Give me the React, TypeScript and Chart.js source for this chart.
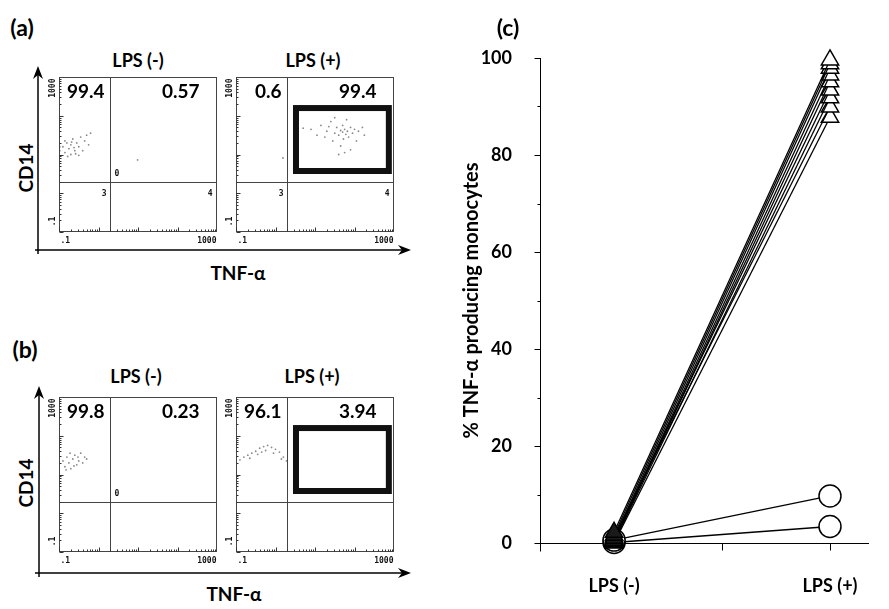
import React, { useEffect, useRef } from 'react';
import { Chart, registerables } from 'chart.js';
Chart.register(...registerables);

// ---------- Panel (c) data ----------
const conditions = ['LPS (-)', 'LPS (+)'];
const conditionX = [1, 2];
const triangleLpsNeg = [2.2, 1.6, 1.0, 0.5, 0.3, 0.8, 0.2, 1.3, 0.0];
const triangleLpsPos = [99.6, 98.8, 97.9, 96.5, 95.1, 93.4, 91.8, 89.9, 87.8];
const circleLpsNeg = [0.6, 0.1];
const circleLpsPos = [9.7, 3.4];
const yTickValues = [0, 10, 20, 30, 40, 50, 60, 70, 80, 90, 100];
const yLabelStep = 20;
const yAxisTitle = '% TNF-\u03b1 producing monocytes';

// ---------- Panels (a)/(b) data (log10 exponents of TNF-α, CD14) ----------
const cellsA_neg: number[][] = [
  [-1, 0.95], [-1, 1.05], [-1, 1.15], [-1, 1.25], [-1, 1.35], [-1, 1.45], [-0.98, 1.2], [-0.98, 1.1],
  [-0.9, 1.2], [-0.85, 1.05], [-0.8, 1.3], [-0.75, 1.15], [-0.7, 1.25], [-0.7, 1.0], [-0.65, 1.4],
  [-0.6, 1.1], [-0.55, 1.3], [-0.5, 1.2], [-0.5, 0.98], [-0.45, 1.45], [-0.4, 1.1], [-0.35, 1.35],
  [-0.3, 1.5], [-0.25, 1.25], [-0.2, 1.55], [-0.85, 1.35], [-0.78, 0.95], [-0.62, 1.18], [-0.58, 1.02],
  [-0.68, 1.32], [0.99, 0.86],
];
const cellsA_pos: number[][] = [
  [0.9, 1.65], [1.05, 1.5], [1.15, 1.75], [1.25, 1.45], [1.3, 1.6], [1.4, 1.85], [1.45, 1.35], [1.5, 1.55],
  [1.55, 1.7], [1.6, 1.5], [1.65, 1.62], [1.7, 1.58], [1.7, 1.75], [1.72, 1.4], [1.75, 1.65], [1.78, 1.52],
  [1.8, 1.9], [1.82, 1.6], [1.85, 1.45], [1.9, 1.7], [1.95, 1.55], [2.0, 1.65], [2.05, 1.35], [2.1, 1.6],
  [2.2, 1.7], [2.25, 1.5], [1.6, 1.0], [1.75, 1.05], [1.9, 1.12], [1.5, 1.95], [1.65, 1.22], [1.35, 1.72],
  [0.7, 1.68], [0.19, 0.91],
];
const cellsB_neg: number[][] = [
  [-1, 1.2], [-1, 1.3], [-1, 1.4], [-1, 1.25], [-0.9, 1.35], [-0.85, 1.2], [-0.8, 1.45], [-0.75, 1.3],
  [-0.7, 1.15], [-0.65, 1.4], [-0.6, 1.5], [-0.55, 1.25], [-0.5, 1.35], [-0.45, 1.55], [-0.4, 1.3],
  [-0.35, 1.45], [-0.3, 1.4], [-0.72, 1.55], [-0.62, 1.22], [-0.82, 1.12], [-0.52, 1.45],
];
const cellsB_pos: number[][] = [
  [-1, 1.35], [-1, 1.45], [-1, 1.4], [-0.9, 1.38], [-0.8, 1.45], [-0.7, 1.5], [-0.6, 1.55], [-0.5, 1.6],
  [-0.4, 1.68], [-0.3, 1.72], [-0.2, 1.75], [-0.1, 1.7], [0.0, 1.65], [0.1, 1.58], [0.2, 1.45], [0.28, 1.35],
  [-0.45, 1.52], [-0.25, 1.62], [-0.05, 1.55], [0.15, 1.4], [-0.65, 1.42], [-0.35, 1.58],
];
const quadrantPercentA_neg = ['99.4', '0.57'];
const quadrantPercentA_pos = ['0.6', '99.4'];
const quadrantPercentB_neg = ['99.8', '0.23'];
const quadrantPercentB_pos = ['96.1', '3.94'];
const quadrantThreshold = 1.9;
const gateX = [3.3, 740];
const gateY = [3.75, 158];
const flowAxisMin = 0.1;
const flowAxisMax = 1000;

const LATO = 'Lato, "Open Sans", sans-serif';

type FlowProps = {
  left: number; top: number; cells: number[][]; pct: string[]; gate: boolean;
  small: { three?: boolean; four?: boolean; zero?: boolean };
};

function FlowPlot({ left, top, cells, pct, gate, small }: FlowProps) {
  const ref = useRef<HTMLCanvasElement>(null);
  const padL = 16, padT = 4, padR = 6, padB = 16, bw = 158, bh = 155;
  const W = bw + padL + padR, H = bh + padT + padB;
  useEffect(() => {
    const canvas = ref.current!;
    const plugin = {
      id: 'flowDecor',
      afterDraw(chart: any) {
        const ctx = chart.ctx as CanvasRenderingContext2D;
        const xs = chart.scales.x, ys = chart.scales.y;
        const a = chart.chartArea;
        const L = Math.round(a.left) + 0.5, R = Math.round(a.right) - 0.5;
        const T = Math.round(a.top) + 0.5, B = Math.round(a.bottom) - 0.5;
        ctx.save();
        ctx.strokeStyle = '#444';
        ctx.lineWidth = 1;
        ctx.strokeRect(L, T, R - L, B - T);
        const qx = Math.round(xs.getPixelForValue(quadrantThreshold)) + 0.5;
        const qy = Math.round(ys.getPixelForValue(quadrantThreshold)) + 0.5;
        ctx.beginPath();
        ctx.moveTo(qx, T); ctx.lineTo(qx, B);
        ctx.moveTo(L, qy); ctx.lineTo(R, qy);
        ctx.stroke();
        ctx.strokeStyle = '#333';
        ctx.beginPath();
        for (let e = -1; e <= 2; e++) {
          for (let k = 1; k <= 9; k++) {
            const v = k * Math.pow(10, e);
            const len = k === 1 ? 4 : 2;
            const px = Math.round(xs.getPixelForValue(v)) + 0.5;
            ctx.moveTo(px, B); ctx.lineTo(px, B - len);
            const py = Math.round(ys.getPixelForValue(v)) + 0.5;
            ctx.moveTo(L, py); ctx.lineTo(L + len, py);
          }
        }
        ctx.stroke();
        if (gate) {
          ctx.strokeStyle = '#111';
          ctx.lineWidth = 6;
          const gx1 = xs.getPixelForValue(gateX[0]), gx2 = xs.getPixelForValue(gateX[1]);
          const gy1 = ys.getPixelForValue(gateY[1]), gy2 = ys.getPixelForValue(gateY[0]);
          ctx.strokeRect(gx1, gy1, gx2 - gx1, gy2 - gy1);
        }
        ctx.fillStyle = '#111';
        ctx.font = 'bold 8px "DejaVu Sans Mono", monospace';
        ctx.textBaseline = 'middle';
        ctx.textAlign = 'left';
        ctx.fillText('.1', L + 1, B + 9);
        ctx.textAlign = 'right';
        ctx.fillText(String(flowAxisMax), R, B + 9);
        ctx.save();
        ctx.translate(L - 7, T + 1);
        ctx.rotate(-Math.PI / 2);
        ctx.textAlign = 'right';
        ctx.fillText(String(flowAxisMax), 0, 0);
        ctx.restore();
        ctx.save();
        ctx.translate(L - 7, B - 10);
        ctx.rotate(-Math.PI / 2);
        ctx.textAlign = 'center';
        ctx.fillText('.1', 0, 0);
        ctx.restore();
        if (small.three) { ctx.textAlign = 'right'; ctx.fillText('3', qx - 4, qy + 11); }
        if (small.four) { ctx.textAlign = 'right'; ctx.fillText('4', R - 4, qy + 11); }
        if (small.zero) { ctx.textAlign = 'left'; ctx.fillText('0', qx + 4, qy - 9); }
        ctx.fillStyle = '#000';
        ctx.font = `bold 19px ${LATO}`;
        ctx.textAlign = 'right';
        ctx.fillText(pct[0], qx - 6, T + 14);
        ctx.fillText(pct[1], R - 17, T + 14);
        ctx.restore();
      },
    };
    const chart = new Chart(canvas, {
      type: 'scatter',
      data: {
        datasets: [{
          data: cells.map(([lx, ly]) => ({ x: Math.pow(10, lx), y: Math.pow(10, ly) })),
          pointRadius: 0.9,
          pointBorderWidth: 0,
          backgroundColor: '#8a8a8a',
          borderColor: '#8a8a8a',
        }],
      },
      options: {
        animation: false,
        responsive: false,
        events: [],
        layout: { padding: { left: padL, top: padT, right: padR, bottom: padB } },
        plugins: { legend: { display: false }, tooltip: { enabled: false } },
        scales: {
          x: { type: 'logarithmic', min: flowAxisMin, max: flowAxisMax, display: false },
          y: { type: 'logarithmic', min: flowAxisMin, max: flowAxisMax, display: false },
        },
      },
      plugins: [plugin],
    } as any);
    return () => chart.destroy();
  }, []);
  return (
    <canvas
      ref={ref}
      width={W}
      height={H}
      style={{ position: 'absolute', left: left - padL, top: top - padT, width: W, height: H }}
    />
  );
}

function PanelC() {
  const ref = useRef<HTMLCanvasElement>(null);
  useEffect(() => {
    const canvas = ref.current!;
    const lineStyle = { borderColor: '#000', borderWidth: 1.3, pointBorderColor: '#000', pointBorderWidth: 1.5, showLine: true, clip: false as any };
    const datasets: any[] = [];
    triangleLpsNeg.forEach((v, i) => {
      datasets.push({
        ...lineStyle,
        data: [{ x: conditionX[0], y: v }, { x: conditionX[1], y: triangleLpsPos[i] }],
        pointStyle: 'triangle',
        pointRadius: 10,
        pointBackgroundColor: ['#1a1a1a', '#fff'],
      });
    });
    circleLpsNeg.forEach((v, i) => {
      datasets.push({
        ...lineStyle,
        data: [{ x: conditionX[0], y: v }, { x: conditionX[1], y: circleLpsPos[i] }],
        pointStyle: 'circle',
        pointRadius: 11,
        pointBackgroundColor: '#fff',
      });
    });
    const tickPlugin = {
      id: 'cTicks',
      afterDraw(chart: any) {
        const ctx = chart.ctx as CanvasRenderingContext2D;
        const xs = chart.scales.x, ys = chart.scales.y;
        const a = chart.chartArea;
        const L = Math.round(a.left) + 0.5;
        const B = Math.round(ys.getPixelForValue(0)) + 0.5;
        ctx.save();
        ctx.strokeStyle = '#000';
        ctx.lineWidth = 1;
        ctx.beginPath();
        yTickValues.forEach((v) => {
          const py = Math.round(ys.getPixelForValue(v)) + 0.5;
          const len = v % yLabelStep === 0 ? 6 : 3;
          ctx.moveTo(L - len, py); ctx.lineTo(L, py);
        });
        ctx.moveTo(L, B); ctx.lineTo(L, B + 8);
        [1.5, 2].forEach((v) => {
          const px = Math.round(xs.getPixelForValue(v)) + 0.5;
          ctx.moveTo(px, B); ctx.lineTo(px, B + 7);
        });
        ctx.stroke();
        ctx.restore();
      },
    };
    const tickFont = { family: LATO, weight: 'bold' as const, size: 18 };
    const chart = new Chart(canvas, {
      type: 'scatter',
      data: { datasets },
      options: {
        animation: false,
        responsive: false,
        events: [],
        layout: { padding: { left: 26, top: 58, right: 21, bottom: 8 } },
        plugins: { legend: { display: false }, tooltip: { enabled: false } },
        scales: {
          x: {
            type: 'linear', min: 0.657, max: 2.176,
            afterBuildTicks: (s: any) => { s.ticks = conditionX.map((v) => ({ value: v })); },
            afterFit: (s: any) => { s.height = 58; },
            ticks: {
              autoSkip: false, maxRotation: 0, minRotation: 0, padding: 24, color: '#000', font: tickFont,
              callback: (v: any) => { const i = conditionX.indexOf(Number(v)); return i >= 0 ? conditions[i] : ''; },
            },
            grid: { display: false },
            border: { display: true, color: '#000', width: 1 },
          },
          y: {
            type: 'linear', min: 0, max: 100,
            afterBuildTicks: (s: any) => { s.ticks = yTickValues.map((v) => ({ value: v })); },
            afterFit: (s: any) => { s.width = 84; },
            ticks: {
              autoSkip: false, padding: 20, color: '#000', font: tickFont,
              callback: (v: any) => (Number(v) % yLabelStep === 0 ? String(v) : ''),
            },
            grid: { display: false },
            border: { display: true, color: '#000', width: 1 },
            title: { display: true, text: yAxisTitle, color: '#000', font: { family: LATO, weight: 'bold', size: 20 }, padding: { top: 4, bottom: 4 } },
          },
        },
      },
      plugins: [tickPlugin],
    } as any);
    return () => chart.destroy();
  }, []);
  return <canvas ref={ref} width={459} height={609} style={{ position: 'absolute', left: 430, top: 0, width: 459, height: 609 }} />;
}

function Label({ x, y, text, size = 18, rotate = false }: { x: number; y: number; text: string; size?: number; rotate?: boolean }) {
  return (
    <div
      style={{
        position: 'absolute', left: x, top: y, transform: `translate(-50%, -50%)${rotate ? ' rotate(-90deg)' : ''}`,
        fontFamily: LATO, fontWeight: 700, fontSize: size, lineHeight: 1, whiteSpace: 'nowrap', color: '#000',
      }}
    >
      {text}
    </div>
  );
}

function Arrows({ vx, vTop, vBottom, hy, hLeft, hRight }: { vx: number; vTop: number; vBottom: number; hy: number; hLeft: number; hRight: number }) {
  return (
    <svg width={889} height={609} style={{ position: 'absolute', left: 0, top: 0, pointerEvents: 'none' }}>
      <line x1={vx} y1={vBottom} x2={vx} y2={vTop + 4} stroke="#000" strokeWidth={1.5} />
      <path d={`M ${vx} ${vTop} L ${vx - 5} ${vTop + 13} L ${vx} ${vTop + 9} L ${vx + 5} ${vTop + 13} Z`} fill="#000" />
      <line x1={hLeft} y1={hy} x2={hRight - 4} y2={hy} stroke="#000" strokeWidth={1.5} />
      <path d={`M ${hRight} ${hy} L ${hRight - 13} ${hy - 5} L ${hRight - 9} ${hy} L ${hRight - 13} ${hy + 5} Z`} fill="#000" />
    </svg>
  );
}

export default function App() {
  return (
    <div style={{ position: 'fixed', left: 0, top: 0, width: 889, height: 609, background: '#fff', overflow: 'hidden' }}>
      {/* Panel (a) */}
      <Label x={22} y={27} text="(a)" size={23} />
      <Label x={138} y={60} text={conditions[0]} />
      <Label x={313} y={60} text={conditions[1]} />
      <Label x={25} y={168} text="CD14" size={19} rotate />
      <Label x={238} y={272} text={'TNF-\u03b1'} size={19} />
      <Arrows vx={38} vTop={66} vBottom={254} hy={250} hLeft={35} hRight={411} />
      <FlowPlot left={59} top={77} cells={cellsA_neg} pct={quadrantPercentA_neg} gate={false} small={{ three: true, four: true, zero: true }} />
      <FlowPlot left={236} top={77} cells={cellsA_pos} pct={quadrantPercentA_pos} gate={true} small={{ three: true, four: true }} />
      {/* Panel (b) */}
      <Label x={25} y={349} text="(b)" size={23} />
      <Label x={136} y={376} text={conditions[0]} />
      <Label x={312} y={376} text={conditions[1]} />
      <Label x={25} y={483} text="CD14" size={19} rotate />
      <Label x={234} y={593} text={'TNF-\u03b1'} size={19} />
      <Arrows vx={39} vTop={386} vBottom={577} hy={573} hLeft={35} hRight={411} />
      <FlowPlot left={59} top={397} cells={cellsB_neg} pct={quadrantPercentB_neg} gate={false} small={{ zero: true }} />
      <FlowPlot left={236} top={397} cells={cellsB_pos} pct={quadrantPercentB_pos} gate={true} small={{}} />
      {/* Panel (c) */}
      <Label x={508} y={27} text="(c)" size={23} />
      <PanelC />
    </div>
  );
}
